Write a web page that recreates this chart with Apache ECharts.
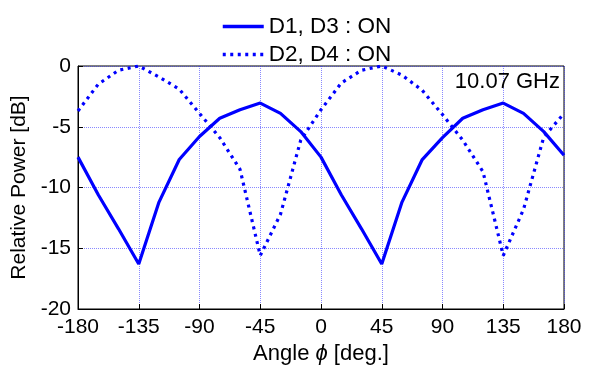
<!DOCTYPE html>
<html>
<head>
<meta charset="utf-8">
<script src="https://cdn.jsdelivr.net/npm/echarts@6/dist/echarts.min.js"></script>
<style>
  html, body { margin: 0; padding: 0; background: #fff; }
  #chart { width: 593px; height: 374px; }
</style>
</head>
<body>
<div id="chart"></div>
<script>
// angles in degrees, 15 deg step
const angles = [-180, -165, -150, -135, -120, -105, -90, -75, -60, -45, -30, -15, 0,
  15, 30, 45, 60, 75, 90, 105, 120, 135, 150, 165, 180]
// D1, D3 : ON  (solid)
const d13 = [-7.5, -10.6, -13.4, -16.3, -11.2, -7.7, -5.8, -4.3, -3.6, -3.05, -3.9, -5.4, -7.5,
  -10.6, -13.4, -16.3, -11.2, -7.7, -5.9, -4.3, -3.6, -3.05, -3.9, -5.4, -7.35]
// D2, D4 : ON  (dotted)
const d24 = [-3.7, -1.5, -0.35, 0, -0.9, -1.9, -3.9, -5.9, -8.5, -15.6, -12.2, -6.1, -3.6,
  -1.4, -0.35, 0, -0.75, -2.0, -4.0, -6.1, -8.7, -15.6, -11.8, -5.85, -3.9]

const xTicks = [-180, -135, -90, -45, 0, 45, 90, 135, 180]
const yTicks = [-20, -15, -10, -5, 0]

const FONT = 'Liberation Sans, Arial, sans-serif'
const BLUE = '#0000ff'

const pairs = (ys) => angles.map((a, i) => [a, ys[i]])

const chart = echarts.init(document.getElementById('chart'))

const gridLine = {
  show: true,
  lineStyle: { color: 'rgba(40,40,255,0.55)', type: [1, 1], width: 1 },
}

chart.setOption({
  animation: false,
  textStyle: { fontFamily: FONT },
  title: {
    text: '10.07 GHz',
    right: 33,
    top: 71,
    padding: 0,
    textStyle: { fontFamily: FONT, fontSize: 22, fontWeight: 'normal', color: '#000' },
  },
  legend: {
    orient: 'vertical',
    top: 10,
    left: 216,
    itemWidth: 41,
    itemHeight: 12,
    itemGap: 5,
    itemStyle: { opacity: 0 },
    lineStyle: { width: 3.5 },
    textStyle: { fontFamily: FONT, fontSize: 22.5, color: '#000' },
    data: ['D1, D3 : ON', 'D2, D4 : ON'],
  },
  grid: {
    left: 78,
    right: 29,
    top: 66,
    bottom: 65,
    show: true,
    borderColor: '#000',
    borderWidth: 1,
  },
  xAxis: {
    type: 'value',
    min: xTicks[0],
    max: xTicks[xTicks.length - 1],
    interval: 45,
    name: 'Angle {i|ϕ} [deg.]',
    nameLocation: 'middle',
    nameGap: 34,
    nameTextStyle: {
      fontFamily: FONT,
      fontSize: 22,
      color: '#000',
      rich: { i: { fontFamily: FONT, fontSize: 22, fontStyle: 'italic', color: '#000' } },
    },
    axisLine: { show: true, onZero: false, lineStyle: { color: '#000', width: 1 } },
    axisTick: { show: true, inside: true, length: 5, lineStyle: { color: '#000' } },
    axisLabel: { fontFamily: FONT, fontSize: 21, color: '#000', margin: 8 },
    splitLine: gridLine,
  },
  yAxis: {
    type: 'value',
    min: yTicks[0],
    max: yTicks[yTicks.length - 1],
    interval: 5,
    name: 'Relative Power [dB]',
    nameLocation: 'middle',
    nameGap: 41,
    nameTextStyle: { fontFamily: FONT, fontSize: 21, color: '#000' },
    axisLine: { show: true, onZero: false, lineStyle: { color: '#000', width: 1 } },
    axisTick: { show: true, inside: true, length: 5, lineStyle: { color: '#000' } },
    axisLabel: { fontFamily: FONT, fontSize: 21, color: '#000', margin: 7 },
    splitLine: gridLine,
  },
  series: [
    {
      name: 'D1, D3 : ON',
      type: 'line',
      symbol: 'none',
      data: pairs(d13),
      lineStyle: { color: BLUE, width: 3.2 },
      itemStyle: { color: BLUE },
    },
    {
      name: 'D2, D4 : ON',
      type: 'line',
      symbol: 'none',
      data: pairs(d24),
      lineStyle: { color: BLUE, width: 3.2, type: [3, 4.5] },
      itemStyle: { color: BLUE },
    },
  ],
})
</script>
</body>
</html>
